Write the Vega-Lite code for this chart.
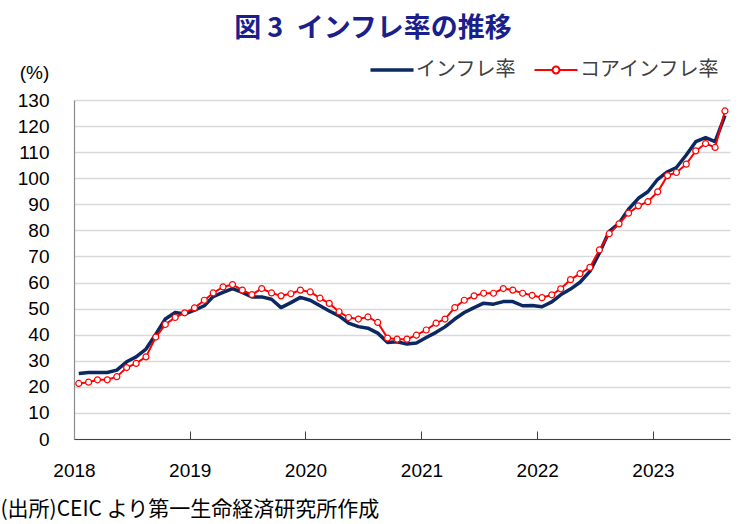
{
  "$schema": "https://vega.github.io/schema/vega-lite/v6.json",
  "autosize": {"type": "none"},
  "width": 656,
  "height": 339,
  "padding": {"left": 74, "top": 100, "right": 17, "bottom": 85},
  "title": {
    "text": "図 3\u2002インフレ率の推移",
    "anchor": "middle",
    "dx": -29,
    "offset": 17,
    "font": "Noto Sans CJK JP",
    "fontSize": 27,
    "fontWeight": "bold",
    "color": "#1a1f8c"
  },
  "data": {
    "values": [
      {"month": "2018-01-16", "inf": 25.1, "core": 21.3},
      {"month": "2018-02-16", "inf": 25.5, "core": 21.8},
      {"month": "2018-03-16", "inf": 25.5, "core": 22.7},
      {"month": "2018-04-16", "inf": 25.5, "core": 22.7},
      {"month": "2018-05-16", "inf": 26.4, "core": 23.9},
      {"month": "2018-06-16", "inf": 29.6, "core": 27.4},
      {"month": "2018-07-16", "inf": 31.5, "core": 29.0},
      {"month": "2018-08-16", "inf": 34.5, "core": 31.5},
      {"month": "2018-09-16", "inf": 40.2, "core": 39.1},
      {"month": "2018-10-16", "inf": 46.0, "core": 43.9},
      {"month": "2018-11-16", "inf": 48.5, "core": 46.6},
      {"month": "2018-12-16", "inf": 47.9, "core": 48.4},
      {"month": "2019-01-16", "inf": 49.4, "core": 50.3},
      {"month": "2019-02-16", "inf": 51.1, "core": 53.2},
      {"month": "2019-03-16", "inf": 54.6, "core": 56.0},
      {"month": "2019-04-16", "inf": 56.2, "core": 58.3},
      {"month": "2019-05-16", "inf": 57.7, "core": 59.2},
      {"month": "2019-06-16", "inf": 56.2, "core": 57.1},
      {"month": "2019-07-16", "inf": 54.5, "core": 55.4},
      {"month": "2019-08-16", "inf": 54.5, "core": 57.7},
      {"month": "2019-09-16", "inf": 53.6, "core": 56.0},
      {"month": "2019-10-16", "inf": 50.4, "core": 54.9},
      {"month": "2019-11-16", "inf": 52.3, "core": 55.7},
      {"month": "2019-12-16", "inf": 54.3, "core": 57.1},
      {"month": "2020-01-16", "inf": 53.2, "core": 56.4},
      {"month": "2020-02-16", "inf": 51.1, "core": 54.0},
      {"month": "2020-03-16", "inf": 49.1, "core": 52.0},
      {"month": "2020-04-16", "inf": 47.2, "core": 48.8},
      {"month": "2020-05-16", "inf": 44.4, "core": 46.6},
      {"month": "2020-06-16", "inf": 43.1, "core": 46.0},
      {"month": "2020-07-16", "inf": 42.5, "core": 46.8},
      {"month": "2020-08-16", "inf": 40.6, "core": 44.7},
      {"month": "2020-09-16", "inf": 37.0, "core": 38.7},
      {"month": "2020-10-16", "inf": 37.3, "core": 38.3},
      {"month": "2020-11-16", "inf": 36.4, "core": 38.3},
      {"month": "2020-12-16", "inf": 36.8, "core": 39.8},
      {"month": "2021-01-16", "inf": 38.9, "core": 41.8},
      {"month": "2021-02-16", "inf": 40.9, "core": 44.4},
      {"month": "2021-03-16", "inf": 43.0, "core": 46.0},
      {"month": "2021-04-16", "inf": 46.0, "core": 50.4},
      {"month": "2021-05-16", "inf": 48.5, "core": 53.2},
      {"month": "2021-06-16", "inf": 50.4, "core": 54.9},
      {"month": "2021-07-16", "inf": 52.1, "core": 55.9},
      {"month": "2021-08-16", "inf": 51.7, "core": 55.9},
      {"month": "2021-09-16", "inf": 52.7, "core": 57.7},
      {"month": "2021-10-16", "inf": 52.7, "core": 57.1},
      {"month": "2021-11-16", "inf": 51.1, "core": 55.9},
      {"month": "2021-12-16", "inf": 51.2, "core": 55.1},
      {"month": "2022-01-16", "inf": 50.7, "core": 54.2},
      {"month": "2022-02-16", "inf": 52.6, "core": 55.3},
      {"month": "2022-03-16", "inf": 55.3, "core": 57.6},
      {"month": "2022-04-16", "inf": 57.5, "core": 61.1},
      {"month": "2022-05-16", "inf": 60.1, "core": 63.4},
      {"month": "2022-06-16", "inf": 64.3, "core": 65.8},
      {"month": "2022-07-16", "inf": 71.3, "core": 72.5},
      {"month": "2022-08-16", "inf": 79.6, "core": 78.7},
      {"month": "2022-09-16", "inf": 82.7, "core": 82.5},
      {"month": "2022-10-16", "inf": 88.1, "core": 86.6},
      {"month": "2022-11-16", "inf": 92.3, "core": 89.4},
      {"month": "2022-12-16", "inf": 94.8, "core": 91.0},
      {"month": "2023-01-16", "inf": 99.6, "core": 94.8},
      {"month": "2023-02-16", "inf": 102.5, "core": 101.0},
      {"month": "2023-03-16", "inf": 104.1, "core": 102.2},
      {"month": "2023-04-16", "inf": 108.9, "core": 105.4},
      {"month": "2023-05-16", "inf": 114.0, "core": 110.5},
      {"month": "2023-06-16", "inf": 115.6, "core": 113.3},
      {"month": "2023-07-16", "inf": 114.0, "core": 111.8},
      {"month": "2023-08-16", "inf": 124.0, "core": 125.8}
    ]
  },
  "transform": [
    {"fold": ["inf", "core"], "as": ["key", "value"]},
    {"lookup": "key", "from": {"data": {"values": [
      {"key": "inf", "series": "インフレ率"},
      {"key": "core", "series": "コアインフレ率"}
    ]}, "key": "key", "fields": ["series"]}}
  ],
  "encoding": {
    "x": {
      "field": "month",
      "type": "temporal",
      "scale": {"domain": ["2018-01-01", "2023-09-01"]},
      "axis": {
        "title": "(出所)CEIC より第一生命経済研究所作成",
        "titleFont": "Liberation Sans Narrow, Noto Sans CJK JP",
        "titleFontSize": 21,
        "titleFontWeight": "normal",
        "titleColor": "#000000",
        "titleAnchor": "start",
        "titleAlign": "left",
        "titleX": -74,
        "titleY": 70,
        "titleBaseline": "middle",
        "format": "%Y",
        "tickCount": {"interval": "year", "step": 1},
        "labelFlush": false,
        "labelAlign": "center",
        "labelFont": "Liberation Sans Narrow, sans-serif",
        "labelFontSize": 19,
        "labelColor": "#000000",
        "labelPadding": 30,
        "tickSize": -8,
        "tickColor": "#404040",
        "domainColor": "#404040",
        "domainWidth": 1.2,
        "grid": false
      }
    },
    "y": {
      "field": "value",
      "type": "quantitative",
      "scale": {"domain": [0, 130], "nice": false},
      "axis": {
        "values": [0, 10, 20, 30, 40, 50, 60, 70, 80, 90, 100, 110, 120, 130],
        "title": "(%)",
        "titleFont": "Liberation Sans Narrow, sans-serif",
        "titleFontSize": 19,
        "titleFontWeight": "normal",
        "titleColor": "#000000",
        "titleAngle": 0,
        "titleX": -40,
        "titleY": -28,
        "titleAlign": "center",
        "titleBaseline": "middle",
        "labelFont": "Liberation Sans Narrow, sans-serif",
        "labelFontSize": 19,
        "labelColor": "#000000",
        "labelPadding": 25,
        "ticks": false,
        "domainColor": "#8c8c8c",
        "domainWidth": 1.2,
        "grid": true,
        "gridColor": "#d9d9d9",
        "gridWidth": 1.5
      }
    }
  },
  "layer": [
    {
      "transform": [{"filter": "datum.key == 'inf'"}],
      "mark": {"type": "line", "strokeWidth": 3.5, "strokeJoin": "round"},
      "encoding": {
        "color": {
          "field": "series",
          "type": "nominal",
          "scale": {"domain": ["インフレ率", "コアインフレ率"], "range": ["#0b2862", "#ff0000"]},
          "legend": {
            "orient": "none",
            "legendX": 308,
            "legendY": -40,
            "direction": "horizontal",
            "title": null,
            "symbolType": "stroke",
            "symbolSize": 1849,
            "labelFont": "Noto Sans CJK JP",
            "labelFontSize": 20,
            "labelColor": "#404040",
            "labelOffset": 14,
            "columnPadding": 14,
            "encode": {
              "symbols": {
                "update": {
                  "shape": {"signal": "datum.value == 'コアインフレ率' ? 'M-1,0H-0.16M0.16,0H1M0.16,0A0.16,0.16,0,1,1,-0.16,0A0.16,0.16,0,1,1,0.16,0' : 'M-1,0H1'"},
                  "strokeWidth": {"signal": "datum.value == 'コアインフレ率' ? 2 : 3.5"},
                  "fill": {"value": "#ffffff"}
                }
              }
            }
          }
        }
      }
    },
    {
      "transform": [{"filter": "datum.key == 'core'"}],
      "mark": {"type": "line", "strokeWidth": 2, "color": "#ff0000"},
      "encoding": {}
    },
    {
      "transform": [{"filter": "datum.key == 'core'"}],
      "mark": {"type": "point", "filled": true, "fill": "#ffffff", "stroke": "#ff0000", "strokeWidth": 1.2, "size": 36, "opacity": 1},
      "encoding": {}
    }
  ],
  "config": {
    "view": {"stroke": null}
  }
}
